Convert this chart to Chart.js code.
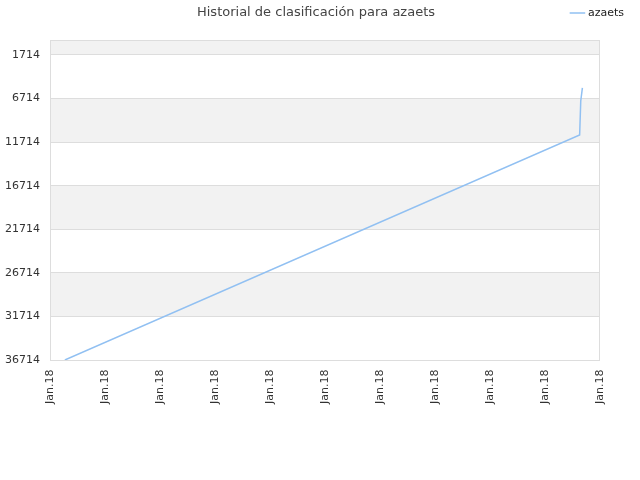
<!DOCTYPE html>
<html>
<head>
<meta charset="utf-8">
<script src="https://cdn.jsdelivr.net/npm/chart.js@4"></script>
<style>
  html, body { margin: 0; padding: 0; background: #fff; }
  #wrap { width: 640px; height: 480px; }
</style>
</head>
<body>
<div id="wrap"><canvas id="chart"></canvas></div>
<script>
// data
const seriesName = "azaets";
const positions = [0.27, 9.63, 9.65, 9.68];      // position along the date axis
const ranks = [36714, 10900, 7000, 5500];         // classification (lower is better)
const xTickLabels = ["Jan.18", "Jan.18", "Jan.18", "Jan.18", "Jan.18", "Jan.18",
  "Jan.18", "Jan.18", "Jan.18", "Jan.18", "Jan.18"];
const yTickValues = [1714, 6714, 11714, 16714, 21714, 26714, 31714, 36714];

const lineColor = "rgba(145,192,242,1)";

// alternate grey bands behind the plot + a light frame around it
const bandsPlugin = {
  id: "bands",
  beforeDraw(chart) {
    const { ctx, chartArea: a, scales: { y } } = chart;
    const edges = [y.min, ...yTickValues];
    ctx.save();
    ctx.fillStyle = "#f2f2f2";
    for (let i = 0; i < edges.length - 1; i++) {
      if (i % 2 === 0) {
        const top = y.getPixelForValue(edges[i]);
        const bottom = y.getPixelForValue(edges[i + 1]);
        ctx.fillRect(a.left, top, a.right - a.left, bottom - top);
      }
    }
    ctx.restore();
  },
  afterDatasetsDraw(chart) {
    const { ctx, chartArea: a } = chart;
    ctx.save();
    ctx.strokeStyle = "#dddddd";
    ctx.lineWidth = 1;
    ctx.strokeRect(a.left + 0.5, a.top + 0.5, a.right - a.left - 1, a.bottom - a.top);
    ctx.restore();
  },
};

const ctx = document.getElementById("chart").getContext("2d");

new Chart(ctx, {
  type: "line",
  data: {
    datasets: [
      {
        label: seriesName,
        data: positions.map((p, i) => ({ x: p, y: ranks[i] })),
        borderColor: lineColor,
        backgroundColor: lineColor,
        borderWidth: 1.5,
        pointRadius: 0,
        tension: 0,
      },
    ],
  },
  options: {
    responsive: true,
    maintainAspectRatio: false,
    animation: false,
    layout: { padding: { left: 0, right: 8, top: 0, bottom: 70 } },
    plugins: {
      title: {
        display: true,
        text: "Historial de clasificación para azaets",
        color: "#444",
        font: { family: "DejaVu Sans", size: 13, weight: "normal" },
        padding: { top: 5, bottom: -21 },
      },
      legend: {
        display: true,
        align: "end",
        labels: {
          color: "#222",
          font: { family: "DejaVu Sans", size: 11 },
          usePointStyle: true,
          pointStyle: "line",
          boxWidth: 10,
          padding: 8,
        },
      },
      tooltip: { enabled: false },
    },
    scales: {
      x: {
        type: "linear",
        min: 0,
        max: 10,
        afterBuildTicks: (axis) => {
          axis.ticks = xTickLabels.map((_, i) => ({ value: i }));
        },
        afterFit: (axis) => {
          axis.height = 50;
        },
        grid: { display: false, drawTicks: true },
        border: { display: false },
        ticks: {
          color: "#333",
          font: { family: "DejaVu Sans", size: 11 },
          minRotation: 90,
          maxRotation: 90,
          autoSkip: false,
          padding: 2,
          callback: (value, index) => xTickLabels[index],
        },
      },
      // empty top axis, only reserves the gap between legend and plot
      xTop: {
        position: "top",
        display: true,
        afterFit: (axis) => {
          axis.height = 11;
        },
        grid: { display: false },
        border: { display: false },
        ticks: { display: false },
      },
      y: {
        type: "linear",
        reverse: true,
        min: 0,
        max: 36714,
        afterBuildTicks: (axis) => {
          axis.ticks = yTickValues.map((v) => ({ value: v }));
        },
        afterFit: (axis) => {
          axis.width = 50;
        },
        grid: { color: "#dddddd", drawTicks: false },
        border: { display: false },
        ticks: {
          color: "#333",
          font: { family: "DejaVu Sans", size: 11 },
          padding: 10,
          callback: (value) => String(value),
        },
      },
      // empty right-hand axis, only reserves the margin right of the plot
      yRight: {
        position: "right",
        display: true,
        afterFit: (axis) => {
          axis.width = 32;
        },
        grid: { display: false },
        border: { display: false },
        ticks: { display: false },
      },
    },
  },
  plugins: [bandsPlugin],
});
</script>
</body>
</html>
